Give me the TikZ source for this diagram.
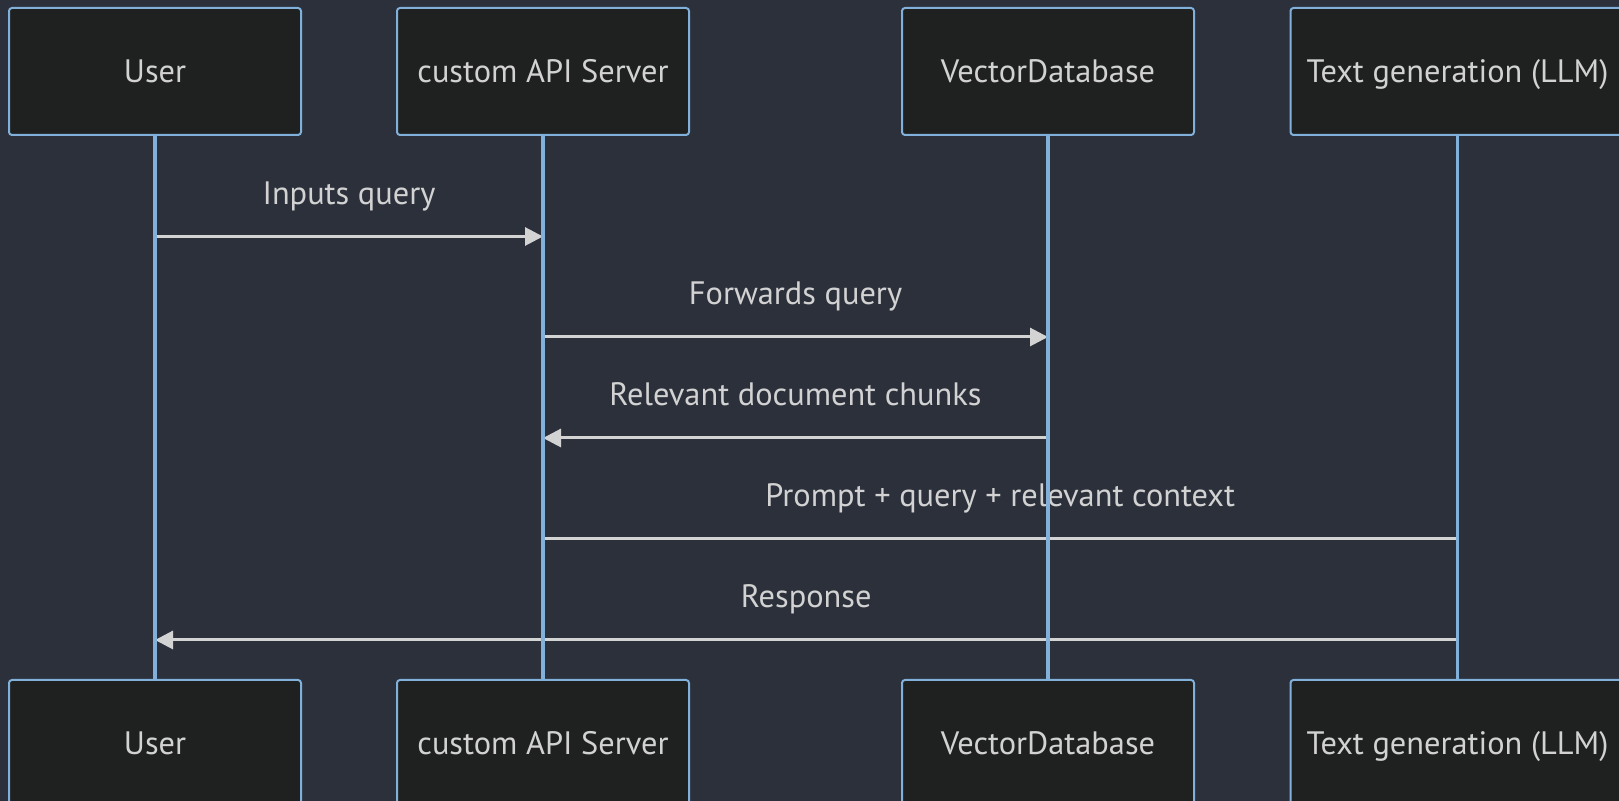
\documentclass[tikz,border=0pt]{standalone}
\usepackage{fontspec}
\setmainfont{PT Sans}
\usetikzlibrary{arrows.meta}
\definecolor{bgdark}{HTML}{2B303B}
\definecolor{actorfill}{HTML}{1F2020}
\definecolor{actorline}{HTML}{81B1DB}
\definecolor{msgline}{HTML}{D3D3D3}
\definecolor{msgtext}{HTML}{D2D2D2}

\begin{document}
\begin{tikzpicture}[x=0.5pt, y=-0.5pt, font=\fontsize{16.2}{19}\selectfont,
    actor/.style={rectangle, rounded corners=1.5pt, draw=actorline, fill=actorfill, line width=1pt, text=msgtext, text height=11.3pt, text depth=0pt, minimum width=146pt, minimum height=63.5pt},
    lifeline/.style={draw=actorline, line width=1.6pt},
    msgplain/.style={draw=msgline, line width=1.5pt},
    msg/.style={msgplain, -{Triangle[length=9pt, width=9pt]}},
    msglabel/.style={midway, anchor=base, yshift=16pt, text=msgtext},
]
\fill[bgdark] (0,0) rectangle (1619,801);
\useasboundingbox (0,0) rectangle (1619,801);
\node[actor] (userT) at (155,71.5) {User};
\node[actor] (apiT) at (543,71.5) {custom API Server};
\node[actor] (vdbT) at (1048,71.5) {VectorDatabase};
\node[actor, minimum width=167pt] (llmT) at (1457.5,71.5) {Text generation (LLM)};
\node[actor] (userB) at (155,743.5) {User};
\node[actor] (apiB) at (543,743.5) {custom API Server};
\node[actor] (vdbB) at (1048,743.5) {VectorDatabase};
\node[actor, minimum width=167pt] (llmB) at (1457.5,743.5) {Text generation (LLM)};
\draw[msg] (userT.south |- 0,236.5) -- (apiT.south |- 0,236.5) node[msglabel] {Inputs query};
\draw[msg] (apiT.south |- 0,337) -- (vdbT.south |- 0,337) node[msglabel] {Forwards query};
\draw[msg] (vdbT.south |- 0,438) -- (apiT.south |- 0,438) node[msglabel] {Relevant document chunks};
\draw[msgplain] (apiT.south |- 0,539) -- (llmT.south |- 0,539) node[msglabel] {Prompt + query + relevant context};
\draw[msg] (llmT.south |- 0,640) -- (userT.south |- 0,640) node[msglabel] {Response};
\draw[lifeline] (userT) -- (userB);
\draw[lifeline] (apiT) -- (apiB);
\draw[lifeline] (vdbT) -- (vdbB);
\draw[lifeline] (llmT) -- (llmB);
\end{tikzpicture}
\end{document}
